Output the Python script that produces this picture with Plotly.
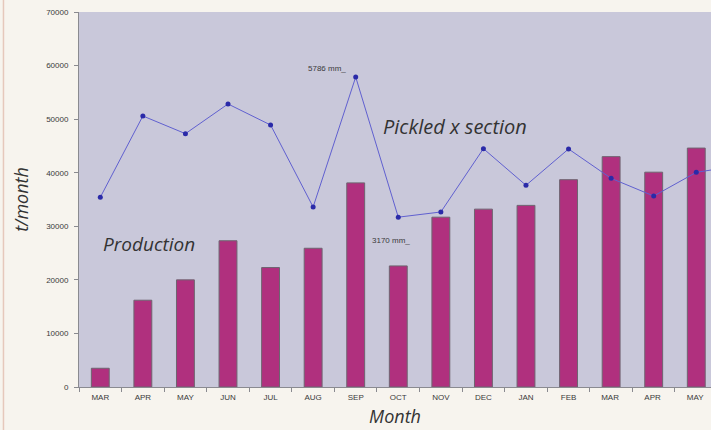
import plotly.graph_objects as go

# Monthly production (t/month) and pickled cross-section (mm)
months = ["MAR", "APR", "MAY", "JUN", "JUL", "AUG", "SEP", "OCT",
          "NOV", "DEC", "JAN", "FEB", "MAR ", "APR ", "MAY ", "JUN "]
production = [3500, 16200, 20000, 27300, 22300, 25900, 38100, 22600,
              31700, 33200, 33900, 38700, 43000, 40100, 44600, None]
pickled_mm = [3541, 5059, 4729, 5283, 4891, 3360, 5786, 3170,
              3267, 4449, 3765, 4443, 3895, 3565, 4007, 4131]
y_ticks = [0, 10000, 20000, 30000, 40000, 50000, 60000, 70000]

fig = go.Figure()
fig.add_trace(go.Bar(
    x=months, y=production,
    marker=dict(color="#b0307e", line=dict(color="#6e6470", width=1)),
    width=0.42, showlegend=False,
))
fig.add_trace(go.Scatter(
    x=months, y=pickled_mm, yaxis="y2", mode="lines+markers",
    line=dict(color="#6060d0", width=1),
    marker=dict(color="#2a2aa8", size=5, symbol="circle"),
    showlegend=False, cliponaxis=True,
))

label_font = dict(family="Liberation Sans, Arial", size=8, color="#3a3a3a")
italic_font = dict(family="Open Sans", size=18, color="#333333", style="italic")
note_font = dict(family="Open Sans", size=19, color="#333333", style="italic")

# Point labels on the pickled cross-section line
for i, dx, dy in [(6, -29, -9), (7, -7, 23)]:
    fig.add_annotation(x=months[i], y=pickled_mm[i], xref="x", yref="y2",
                       text=f"{pickled_mm[i]} mm_", showarrow=False,
                       xshift=dx, yshift=-dy, font=label_font)

fig.add_annotation(x=1.15, y=26700, xref="x", yref="y", text="Production",
                   showarrow=False, font=note_font)
fig.add_annotation(x=8.34, y=48700, xref="x", yref="y", text="Pickled x section",
                   showarrow=False, font=dict(note_font, size=20))

# thin page border on the left
fig.add_shape(type="line", xref="paper", yref="paper",
              x0=-0.1195, x1=-0.1195, y0=-0.2, y1=1.1,
              line=dict(color="#e6c8bc", width=1.5))

fig.update_layout(
    width=711, height=430,
    margin=dict(l=79, r=0, t=12, b=43),
    paper_bgcolor="#f7f4ee",
    plot_bgcolor="#c9c8da",
    bargap=0.58,
    xaxis=dict(
        type="category", categoryorder="array", categoryarray=months,
        range=[-0.5, 14.346], tickson="boundaries",
        showgrid=False, zeroline=False,
        showline=True, linecolor="#8a8a90", linewidth=1,
        ticks="outside", ticklen=4, tickcolor="#8a8a90",
        tickfont=label_font, ticklabelstandoff=2,
        title=dict(text="Month", font=italic_font, standoff=9),
    ),
    yaxis=dict(
        range=[0, 70000], tickvals=y_ticks, tickformat="d",
        showgrid=False, zeroline=False,
        showline=True, linecolor="#8a8a90", linewidth=1,
        ticks="outside", ticklen=4, tickcolor="#8a8a90",
        tickfont=label_font, ticklabelstandoff=4,
        title=dict(text="t/month", font=italic_font, standoff=12),
    ),
    yaxis2=dict(range=[0, 7000], overlaying="y", visible=False),
)

fig.write_html("out.html")
